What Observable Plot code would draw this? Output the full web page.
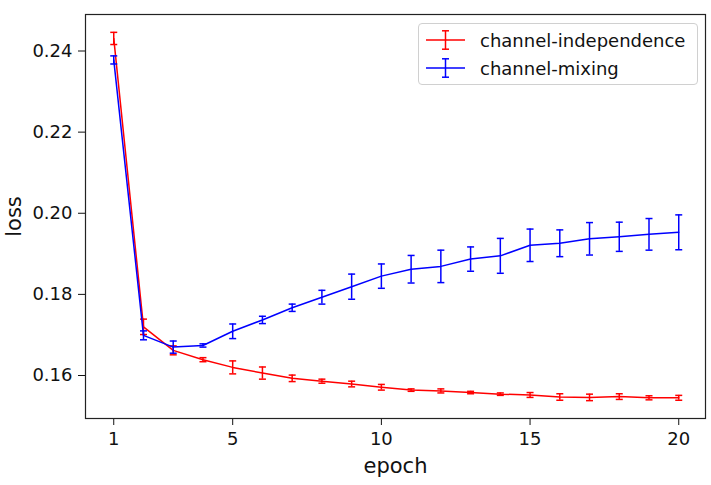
<!DOCTYPE html>
<html>
<head>
<meta charset="utf-8">
<script src="https://cdn.jsdelivr.net/npm/d3@7"></script>
<script src="https://cdn.jsdelivr.net/npm/@observablehq/plot@0.6"></script>
<style>
  html, body { margin: 0; padding: 0; background: white; }
  #wrap { position: relative; width: 711px; height: 485px; font-family: "DejaVu Sans", sans-serif; }
  #legend { position: absolute; left: 418px; top: 23px; width: 280px; height: 62px; box-sizing: border-box;
            border: 1px solid #d0d0d0; border-radius: 4px; background: rgba(255,255,255,0.85); }
  .row { position: absolute; left: 0; height: 20px; display: flex; align-items: center; }
  .row svg { display: block; }
  .row span { font-size: 18px; color: #111; margin-left: 15px; white-space: nowrap; }
</style>
</head>
<body>
<div id="wrap"></div>
<script>
const epochs = [1,2,3,4,5,6,7,8,9,10,11,12,13,14,15,16,17,18,19,20];
const ciLoss = [0.2431,0.1720,0.1662,0.1639,0.1620,0.1606,0.1593,0.1586,0.1579,0.1571,0.1564,0.1562,0.1558,0.1554,0.1552,0.1547,0.1546,0.1548,0.1545,0.1545];
const ciErr  = [0.0015,0.0019,0.0011,0.0005,0.0016,0.0015,0.0008,0.0005,0.0007,0.0007,0.0003,0.0005,0.0003,0.0003,0.0006,0.0008,0.0008,0.0007,0.0005,0.0006];
const cmLoss = [0.2378,0.1699,0.1670,0.1674,0.1709,0.1737,0.1767,0.1793,0.1819,0.1845,0.1862,0.1869,0.1887,0.1895,0.1921,0.1926,0.1937,0.1942,0.1948,0.1953];
const cmErr  = [0.0010,0.0011,0.0015,0.0004,0.0018,0.0009,0.0009,0.0017,0.0031,0.0030,0.0034,0.0040,0.0030,0.0043,0.0040,0.0033,0.0040,0.0036,0.0039,0.0043];
const seriesNames = ["channel-independence", "channel-mixing"];
const seriesColors = ["#ff0000", "#0000ff"];
const xTicks = [1, 5, 10, 15, 20];
const yTicks = [0.16, 0.18, 0.20, 0.22, 0.24];

const ci = epochs.map((e, i) => ({epoch: e, loss: ciLoss[i], err: ciErr[i]}));
const cm = epochs.map((e, i) => ({epoch: e, loss: cmLoss[i], err: cmErr[i]}));

const capSymbol = {
  draw(ctx, size) {
    const w = Math.sqrt(size / Math.PI);
    ctx.moveTo(-w, 0);
    ctx.lineTo(w, 0);
  }
};

function seriesMarks(data, color) {
  return [
    Plot.line(data, {x: "epoch", y: "loss", stroke: color, strokeWidth: 1.5}),
    Plot.ruleX(data, {x: "epoch", y1: d => d.loss - d.err, y2: d => d.loss + d.err, stroke: color, strokeWidth: 1.5}),
    Plot.dot(data, {x: "epoch", y: d => d.loss - d.err, symbol: capSymbol, r: 3.5, stroke: color, fill: "none", strokeWidth: 1.5}),
    Plot.dot(data, {x: "epoch", y: d => d.loss + d.err, symbol: capSymbol, r: 3.5, stroke: color, fill: "none", strokeWidth: 1.5})
  ];
}

const chart = Plot.plot({
  width: 711,
  height: 485,
  marginLeft: 85,
  marginRight: 6,
  marginTop: 14,
  marginBottom: 67,
  style: {fontFamily: "DejaVu Sans", fontSize: "18px", color: "#111", background: "white", overflow: "visible"},
  x: {domain: [0.05, 20.9]},
  y: {domain: [0.1494, 0.2490]},
  marks: [
    Plot.axisX({ticks: xTicks, tickSize: 7, tickPadding: 7, tickFormat: d3.format("d"), label: null}),
    Plot.axisY({ticks: yTicks, tickSize: 7, tickPadding: 6, tickFormat: d3.format(".2f"), label: null}),
    ...seriesMarks(ci, seriesColors[0]),
    ...seriesMarks(cm, seriesColors[1]),
    Plot.frame({stroke: "#222", strokeWidth: 1.2}),
    Plot.text(["epoch"], {frameAnchor: "bottom", text: d => d, dy: 54, fontSize: 21, fill: "#111"}),
    Plot.text(["loss"], {frameAnchor: "left", text: d => d, rotate: -90, textAnchor: "middle", dx: -71, fontSize: 21, fill: "#111"})
  ]
});

const wrap = document.getElementById("wrap");
wrap.appendChild(chart);

const legend = document.createElement("div");
legend.id = "legend";
seriesNames.forEach((name, i) => {
  const row = document.createElement("div");
  row.className = "row";
  row.style.top = (i === 0 ? 6 : 34) + "px";
  row.style.left = "7px";
  const c = seriesColors[i];
  row.innerHTML = `<svg width="39" height="20" viewBox="0 0 39 20">
      <line x1="0" y1="10" x2="39" y2="10" stroke="${c}" stroke-width="1.5"/>
      <line x1="19.5" y1="0.8" x2="19.5" y2="19.2" stroke="${c}" stroke-width="1.5"/>
      <line x1="16" y1="0.8" x2="23" y2="0.8" stroke="${c}" stroke-width="1.5"/>
      <line x1="16" y1="19.2" x2="23" y2="19.2" stroke="${c}" stroke-width="1.5"/>
    </svg><span>${name}</span>`;
  legend.appendChild(row);
});
wrap.appendChild(legend);
</script>
</body>
</html>
